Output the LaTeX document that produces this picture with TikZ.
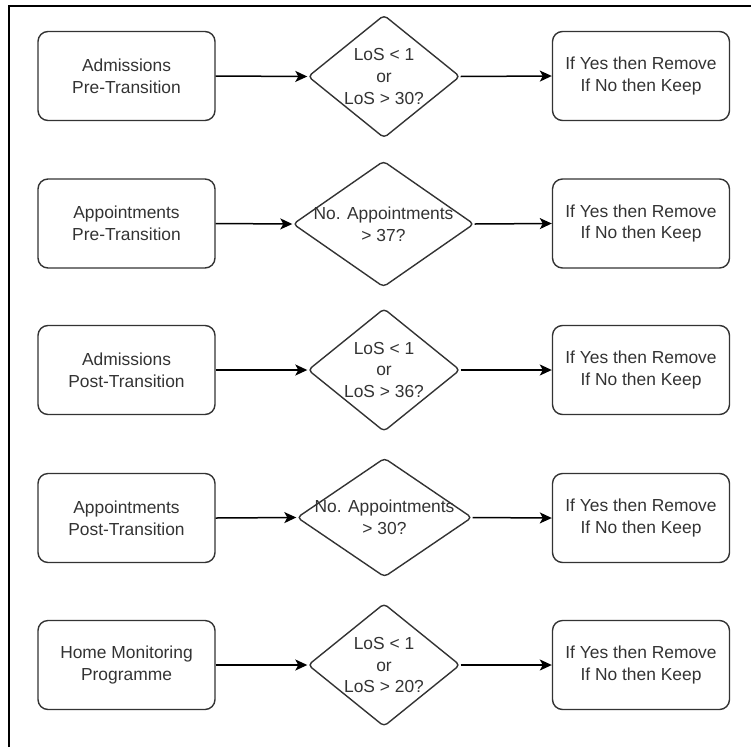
\documentclass[tikz,border=0pt]{standalone}
\usepackage{fontspec}
\setmainfont{Liberation Sans}
\usetikzlibrary{shapes.geometric,arrows.meta}
\definecolor{txt}{HTML}{333333}
\tikzset{
  box/.style={draw=txt, line width=1.4pt, rounded corners=10pt, minimum width=177pt, minimum height=89pt, inner sep=0pt, align=center, text=txt, font=\fontsize{17.4pt}{21.7pt}\selectfont},
  dia/.style={draw=txt, line width=1.4pt, diamond, rounded corners=4pt, inner sep=0pt},
  diatext/.style={align=center, text=txt, inner sep=0pt, font=\fontsize{17.4pt}{21.7pt}\selectfont},
  conn/.style={line width=1.5pt, -{Stealth[length=12pt,width=11pt,inset=3pt]}},
  frame/.style={line width=2.5pt}
}
\begin{document}
\begin{tikzpicture}[x=1pt,y=-1pt]
\useasboundingbox (0,0) rectangle (751,747);
\coordinate (fa) at (9,747);
\coordinate (fb) at (9,6);
\coordinate (fc) at (751,6);
\draw[frame] (fa) -- (fb) -- (fc);

% row 1
\node[box] (l1) at (126.5,76) {Admissions\\Pre-Transition};
\node[dia, minimum width=152pt, minimum height=123pt] (d1) at (384,76.5) {};
\node[diatext] (t1) at (d1.center) {LoS < 1\\or\\LoS > 30?};
\node[box] (r1) at (641,76) {If Yes then Remove\\If No then Keep};
\draw[conn] (l1.east) -- (d1.west);
\draw[conn] (d1.east) -- (r1.west);

% row 2
\node[box] (l2) at (126.5,223.5) {Appointments\\Pre-Transition};
\node[dia, minimum width=181pt, minimum height=126pt] (d2) at (383.5,224) {};
\node[diatext] (t2) at (d2.center) {No. Appointments\\> 37?};
\node[box] (r2) at (641,223.5) {If Yes then Remove\\If No then Keep};
\draw[conn] (l2.east) -- (d2.west);
\draw[conn] (d2.east) -- (r2.west);

% row 3
\node[box] (l3) at (126.5,370) {Admissions\\Post-Transition};
\node[dia, minimum width=152pt, minimum height=123pt] (d3) at (384,370) {};
\node[diatext] (t3) at (d3.center) {LoS < 1\\or\\LoS > 36?};
\node[box] (r3) at (641,370) {If Yes then Remove\\If No then Keep};
\draw[conn] (l3.east) -- (d3.west);
\draw[conn] (d3.east) -- (r3.west);

% row 4
\node[box] (l4) at (126.5,518) {Appointments\\Post-Transition};
\node[dia, minimum width=175pt, minimum height=119pt] (d4) at (384.5,517.5) {};
\node[diatext] (t4) at (d4.center) {No. Appointments\\> 30?};
\node[box] (r4) at (641,518) {If Yes then Remove\\If No then Keep};
\draw[conn] (l4.east) -- (d4.west);
\draw[conn] (d4.east) -- (r4.west);

% row 5
\node[box] (l5) at (126.5,665) {Home Monitoring\\Programme};
\node[dia, minimum width=152pt, minimum height=123pt] (d5) at (384,665) {};
\node[diatext] (t5) at (d5.center) {LoS < 1\\or\\LoS > 20?};
\node[box] (r5) at (641,665) {If Yes then Remove\\If No then Keep};
\draw[conn] (l5.east) -- (d5.west);
\draw[conn] (d5.east) -- (r5.west);
\end{tikzpicture}
\end{document}
